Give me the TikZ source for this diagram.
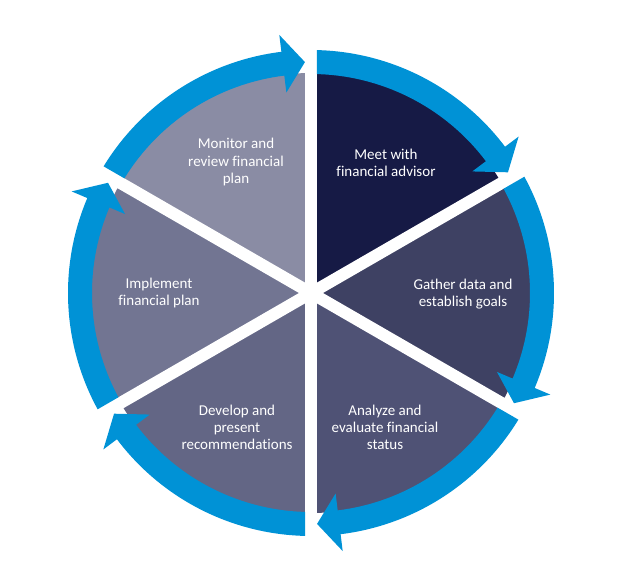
\documentclass[tikz,border=0pt]{standalone}
\usepackage{fontspec}
\setmainfont{Carlito}[Ligatures=NoCommon]
\usepackage{tikz}

\definecolor{ringblue}{RGB}{0,146,214}
\definecolor{secA}{RGB}{22,26,69}
\definecolor{secB}{RGB}{62,65,99}
\definecolor{secC}{RGB}{79,82,117}
\definecolor{secD}{RGB}{99,102,133}
\definecolor{secE}{RGB}{114,117,146}
\definecolor{secF}{RGB}{138,140,164}

\begin{document}
\begin{tikzpicture}[x=1pt,y=1pt,
	lbl/.style = {text = white, align = center, font = \fontsize{15}{17}\selectfont},
	gap/.style = {white, line width = 12pt},
	ring/.style = {fill = ringblue}]
	\useasboundingbox (-311pt,-291pt) rectangle (307pt,293pt);
	% pie
	\foreach \a/\c in {90/secA,30/secB,-30/secC,-90/secD,-150/secE,-210/secF}
		\fill[\c] (0,0) -- (\a:220pt) arc [start angle=\a, end angle=\a-60, radius=220pt] -- cycle;
	\foreach \a in {30,90,150}
		\draw[gap] (\a:270pt) -- (\a+180:270pt);
	% arrows round the pie
	\foreach \k in {0,...,5}
		\fill[ring, rotate=-60*\k] (88.59:243pt) arc [start angle=88.59, end angle=37, radius=243pt]
			-- (37:260pt) -- (31.5:231pt) -- (37:202pt) -- (37:219pt)
			arc [start angle=37, end angle=88.43, radius=219pt] -- cycle;
	% labels
	\node[lbl] (meet) at (75pt,130pt) {Meet with\\financial advisor};
	\node[lbl] (gather) at (152pt,-1pt) {Gather data and\\establish goals};
	\node[lbl] (analyze) at (74pt,-134pt) {Analyze and\\evaluate financial\\status};
	\node[lbl] (develop) at (-74pt,-134pt) {Develop and\\present\\recommendations};
	\node[lbl] (implement) at (-152pt,0pt) {Implement\\financial plan};
	\node[lbl] (monitor) at (-75pt,131pt) {Monitor and\\review financial\\plan};
\end{tikzpicture}
\end{document}
